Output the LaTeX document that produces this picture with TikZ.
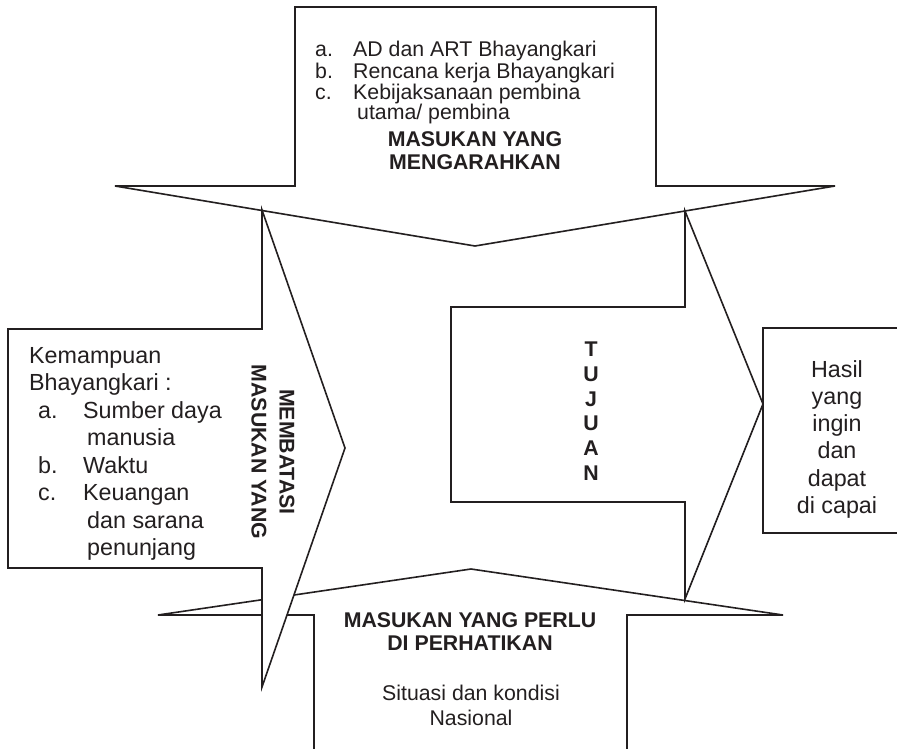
\documentclass[tikz,border=0pt]{standalone}
\usepackage{fontspec}
\setmainfont{Liberation Sans}
\definecolor{ink}{RGB}{35,31,32}
\begin{document}
\begin{tikzpicture}[x=1pt,y=-1pt,
  shp/.style={draw=ink, line width=1.6pt, fill=white},
  tn/.style={inner sep=0pt, text=ink, font=\fontsize{21.3}{22}\selectfont},
  tb/.style={inner sep=0pt, text=ink, font=\fontsize{21.3}{22}\selectfont\bfseries},
  tl/.style={inner sep=0pt, text=ink, font=\fontsize{23.3}{27}\selectfont}]
\useasboundingbox (0,0) rectangle (897,749);
% bottom arrow (pointing up)
\draw[shp] (314,760) -- (314,615) -- (158,615) -- (471,569) -- (783,615) -- (627,615) -- (627,760);
% top arrow (pointing down)
\draw[shp] (295,7) -- (656,7) -- (656,186) -- (835,186) -- (475,246) -- (115,186) -- (295,186) -- cycle;
% left arrow (pointing right)
\draw[shp] (8,329) -- (262,329) -- (262,210) -- (345,448) -- (262,687) -- (262,568) -- (8,568) -- cycle;
% right arrow (TUJUAN)
\draw[shp] (451,307) -- (685,307) -- (685,211) -- (763,404) -- (685,599) -- (685,502) -- (451,502) -- cycle;
% result box
\draw[shp] (763,328) rectangle (905,533);

% top texts
\node[tn, anchor=base west] (ta) at (315,57) {a.};
\node[tn, anchor=base west] (ta2) at (353,57) {AD dan ART Bhayangkari};
\node[tn, anchor=base west] (tbb) at (315,79) {b.};
\node[tn, anchor=base west] (tb2) at (353,79) {Rencana kerja Bhayangkari};
\node[tn, anchor=base west] (tc) at (315,100) {c.};
\node[tn, anchor=base west] (tc2) at (353,100) {Kebijaksanaan pembina};
\node[tn, anchor=base west] (tc3) at (357,120) {utama/ pembina};
\node[tb, anchor=base] (tt1) at (475,147) {MASUKAN YANG};
\node[tb, anchor=base] (tt2) at (475,170) {MENGARAHKAN};

% left texts
\node[tl, anchor=base west] (l1) at (29,363) {Kemampuan};
\node[tl, anchor=base west] (l2) at (29,390) {Bhayangkari :};
\node[tl, anchor=base west] (l3a) at (38,418) {a.};
\node[tl, anchor=base west] (l3) at (83,418) {Sumber daya};
\node[tl, anchor=base west] (l4) at (87,445) {manusia};
\node[tl, anchor=base west] (l5a) at (38,473) {b.};
\node[tl, anchor=base west] (l5) at (83,473) {Waktu};
\node[tl, anchor=base west] (l6a) at (38,500) {c.};
\node[tl, anchor=base west] (l6) at (83,500) {Keuangan};
\node[tl, anchor=base west] (l7) at (87,528) {dan sarana};
\node[tl, anchor=base west] (l8) at (87,555) {penunjang};
\node[tb, rotate=-90, anchor=center] (v1) at (287,452) {MEMBATASI};
\node[tb, rotate=-90, anchor=center] (v2) at (259,452) {MASUKAN YANG};

% TUJUAN
\node[tb, anchor=base] (j1) at (591,356.5) {T};
\node[tb, anchor=base] (j2) at (591,381.3) {U};
\node[tb, anchor=base] (j3) at (591,406.1) {J};
\node[tb, anchor=base] (j4) at (591,430.9) {U};
\node[tb, anchor=base] (j5) at (591,455.7) {A};
\node[tb, anchor=base] (j6) at (591,480.5) {N};

% result texts
\node[tl, anchor=base] (h1) at (837,377) {Hasil};
\node[tl, anchor=base] (h2) at (837,404) {yang};
\node[tl, anchor=base] (h3) at (837,431) {ingin};
\node[tl, anchor=base] (h4) at (837,458) {dan};
\node[tl, anchor=base] (h5) at (837,486) {dapat};
\node[tl, anchor=base] (h6) at (837,513) {di capai};

% bottom texts
\node[tb, anchor=base] (b1) at (470,627) {MASUKAN YANG PERLU};
\node[tb, anchor=base] (b2) at (470,650) {DI PERHATIKAN};
\node[tn, anchor=base] (b3) at (471,700) {Situasi dan kondisi};
\node[tn, anchor=base] (b4) at (471,725) {Nasional};
\end{tikzpicture}
\end{document}
